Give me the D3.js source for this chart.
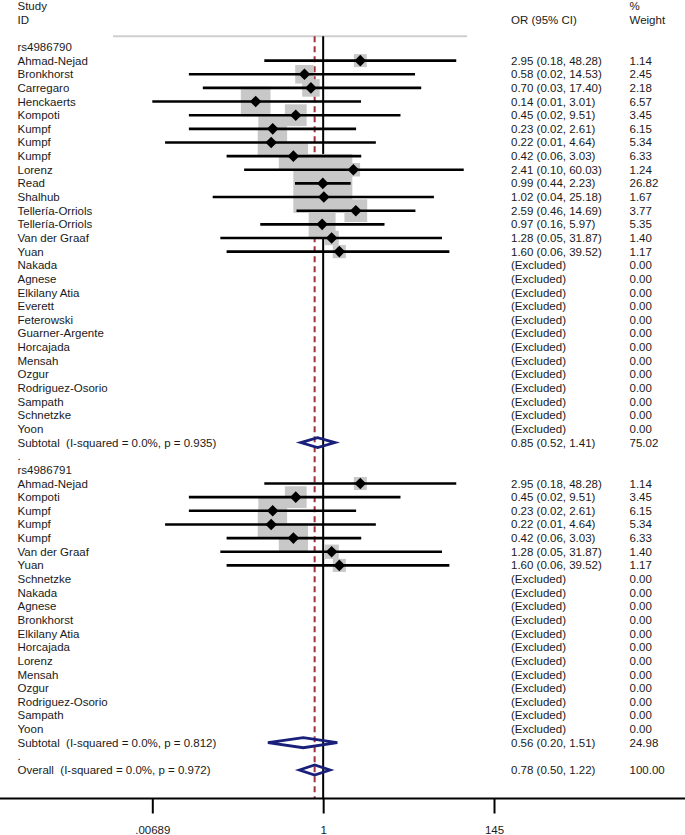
<!DOCTYPE html>
<html>
<head>
<meta charset="utf-8">
<script src="https://cdn.jsdelivr.net/npm/d3@7"></script>
<style>
  html, body { margin: 0; padding: 0; background: #fff; }
  svg { display: block; }
  text { font-family: "Liberation Sans", Arial, sans-serif; font-size: 11.5px; fill: #1a1a1a; white-space: pre; }
</style>
</head>
<body>
<script>
// ---------------- DATA ----------------
const group1Label = "rs4986790";
const studies1 = ["Ahmad-Nejad","Bronkhorst","Carregaro","Henckaerts","Kompoti","Kumpf","Kumpf","Kumpf","Lorenz","Read","Shalhub","Tellería-Orriols","Tellería-Orriols","Van der Graaf","Yuan"];
const or1  = [2.95, 0.58, 0.70, 0.14, 0.45, 0.23, 0.22, 0.42, 2.41, 0.99, 1.02, 2.59, 0.97, 1.28, 1.60];
const lo1  = [0.18, 0.02, 0.03, 0.00689, 0.02, 0.02, 0.01, 0.06, 0.10, 0.44, 0.04, 0.46, 0.16, 0.05, 0.06];
const hi1  = [48.28, 14.53, 17.40, 3.01, 9.51, 2.61, 4.64, 3.03, 60.03, 2.23, 25.18, 14.69, 5.97, 31.87, 39.52];
const wt1  = [1.14, 2.45, 2.18, 6.57, 3.45, 6.15, 5.34, 6.33, 1.24, 26.82, 1.67, 3.77, 5.35, 1.40, 1.17];
const excluded1 = ["Nakada","Agnese","Elkilany Atia","Everett","Feterowski","Guarner-Argente","Horcajada","Mensah","Ozgur","Rodriguez-Osorio","Sampath","Schnetzke","Yoon"];
const subtotal1 = {label: "Subtotal  (I-squared = 0.0%, p = 0.935)", or: 0.85, lo: 0.52, hi: 1.41, wt: 75.02};

const group2Label = "rs4986791";
const studies2 = ["Ahmad-Nejad","Kompoti","Kumpf","Kumpf","Kumpf","Van der Graaf","Yuan"];
const or2  = [2.95, 0.45, 0.23, 0.22, 0.42, 1.28, 1.60];
const lo2  = [0.18, 0.02, 0.02, 0.01, 0.06, 0.05, 0.06];
const hi2  = [48.28, 9.51, 2.61, 4.64, 3.03, 31.87, 39.52];
const wt2  = [1.14, 3.45, 6.15, 5.34, 6.33, 1.40, 1.17];
const excluded2 = ["Schnetzke","Nakada","Agnese","Bronkhorst","Elkilany Atia","Horcajada","Lorenz","Mensah","Ozgur","Rodriguez-Osorio","Sampath","Yoon"];
const subtotal2 = {label: "Subtotal  (I-squared = 0.0%, p = 0.812)", or: 0.56, lo: 0.20, hi: 1.51, wt: 24.98};

const overall = {label: "Overall  (I-squared = 0.0%, p = 0.972)", or: 0.78, lo: 0.50, hi: 1.22, wt: 100.00};

const tickValues = [0.00689, 1, 145];
const tickLabels = [".00689", "1", "145"];

// ---------------- BUILD ROWS ----------------
const rows = [];
function addGroup(label, names, ors, los, his, wts, excl, sub) {
  rows.push({type: "header", label});
  names.forEach((n, i) => rows.push({type: "study", label: n, or: ors[i], lo: los[i], hi: his[i], wt: wts[i]}));
  excl.forEach(n => rows.push({type: "excluded", label: n}));
  rows.push(Object.assign({type: "subtotal"}, sub));
  rows.push({type: "dot", label: "."});
}
addGroup(group1Label, studies1, or1, lo1, hi1, wt1, excluded1, subtotal1);
addGroup(group2Label, studies2, or2, lo2, hi2, wt2, excluded2, subtotal2);
rows.push(Object.assign({type: "subtotal"}, overall));
rows.forEach((r, i) => r.i = i);

// ---------------- LAYOUT ----------------
const W = 685, H = 835;
const svg = d3.select("body").append("svg").attr("width", W).attr("height", H);

const x = d3.scaleLog().domain([tickValues[0], tickValues[2]]).range([152.3, 494]);
const y = d3.scaleLinear().domain([0, rows.length - 1]).range([47, 770]);
const boxSize = d3.scaleSqrt().domain([0, 1]).range([0, 11.2]);

const xText = 17.5, xOR = 511, xWt = 629.5, baseOff = 4;
const axisY = 798.5;
const topY = y(-0.78);
const fmt = d3.format(".2f");

// header
svg.append("text").attr("x", xText).attr("y", y(-3) + baseOff).text("Study");
svg.append("text").attr("x", xText).attr("y", y(-2) + baseOff).text("ID");
svg.append("text").attr("x", xOR).attr("y", y(-2) + baseOff).text("OR (95% CI)");
svg.append("text").attr("x", xWt).attr("y", y(-3) + baseOff).text("%");
svg.append("text").attr("x", xWt).attr("y", y(-2) + baseOff).text("Weight");

svg.append("line").attr("x1", 113).attr("x2", 467).attr("y1", topY).attr("y2", topY)
  .attr("stroke", "#cfcfcf").attr("stroke-width", 2);

// null line and overall dashed line
svg.append("line").attr("x1", x(1)).attr("x2", x(1)).attr("y1", topY).attr("y2", axisY)
  .attr("stroke", "#000").attr("stroke-width", 2);
svg.append("line").attr("x1", x(overall.or)).attr("x2", x(overall.or)).attr("y1", topY).attr("y2", axisY)
  .attr("stroke", "#a3303c").attr("stroke-width", 2).attr("stroke-dasharray", "6,4");

const studyRows = rows.filter(r => r.type === "study");

// weight boxes
svg.append("g").selectAll("rect").data(studyRows).join("rect")
  .attr("x", d => x(d.or) - (boxSize(d.wt) + 1) / 2)
  .attr("y", d => y(d.i) - (boxSize(d.wt) + 1) / 2)
  .attr("width", d => boxSize(d.wt) + 1)
  .attr("height", d => boxSize(d.wt) + 1)
  .attr("fill", "#c8c8c8");

// CI lines
svg.append("g").selectAll("line").data(studyRows).join("line")
  .attr("x1", d => x(d.lo)).attr("x2", d => x(d.hi))
  .attr("y1", d => y(d.i)).attr("y2", d => y(d.i))
  .attr("stroke", "#000").attr("stroke-width", 2.6);

// point diamonds
const pd = 5.8;
svg.append("g").selectAll("path").data(studyRows).join("path")
  .attr("d", d => {
    const cx = x(d.or), cy = y(d.i);
    return `M${cx - pd},${cy}L${cx},${cy - pd}L${cx + pd},${cy}L${cx},${cy + pd}Z`;
  })
  .attr("fill", "#000");

// subtotal / overall diamonds
const subRows = rows.filter(r => r.type === "subtotal");
svg.append("g").selectAll("path").data(subRows).join("path")
  .attr("d", d => {
    const cy = y(d.i), h = 5;
    return `M${x(d.lo)},${cy}L${x(d.or)},${cy - h}L${x(d.hi)},${cy}L${x(d.or)},${cy + h}Z`;
  })
  .attr("fill", "none").attr("stroke", "#1a1f7a").attr("stroke-width", 2.8).attr("stroke-linejoin", "miter");

// row labels
const lab = svg.append("g");
lab.selectAll("text.lbl").data(rows).join("text").attr("class", "lbl")
  .attr("x", xText).attr("y", d => y(d.i) + baseOff).text(d => d.label);

lab.selectAll("text.or").data(rows.filter(r => r.type !== "header" && r.type !== "dot")).join("text").attr("class", "or")
  .attr("x", xOR).attr("y", d => y(d.i) + baseOff)
  .text(d => d.type === "excluded" ? "(Excluded)" : `${fmt(d.or)} (${fmt(d.lo)}, ${fmt(d.hi)})`);

lab.selectAll("text.wt").data(rows.filter(r => r.type !== "header" && r.type !== "dot")).join("text").attr("class", "wt")
  .attr("x", xWt).attr("y", d => y(d.i) + baseOff)
  .text(d => d.type === "excluded" ? "0.00" : fmt(d.wt));

// axis
svg.append("line").attr("x1", 0).attr("x2", W).attr("y1", axisY).attr("y2", axisY)
  .attr("stroke", "#000").attr("stroke-width", 2);
const axis = svg.append("g").attr("transform", `translate(0,${axisY})`)
  .call(d3.axisBottom(x).tickValues(tickValues).tickFormat((d, i) => tickLabels[i]).tickSize(15).tickPadding(12));
axis.select(".domain").remove();
axis.selectAll(".tick line").attr("stroke", "#000").attr("stroke-width", 2);
axis.selectAll(".tick text").attr("font-family", null).attr("font-size", null).style("fill", "#1a1a1a");
</script>
</body>
</html>
